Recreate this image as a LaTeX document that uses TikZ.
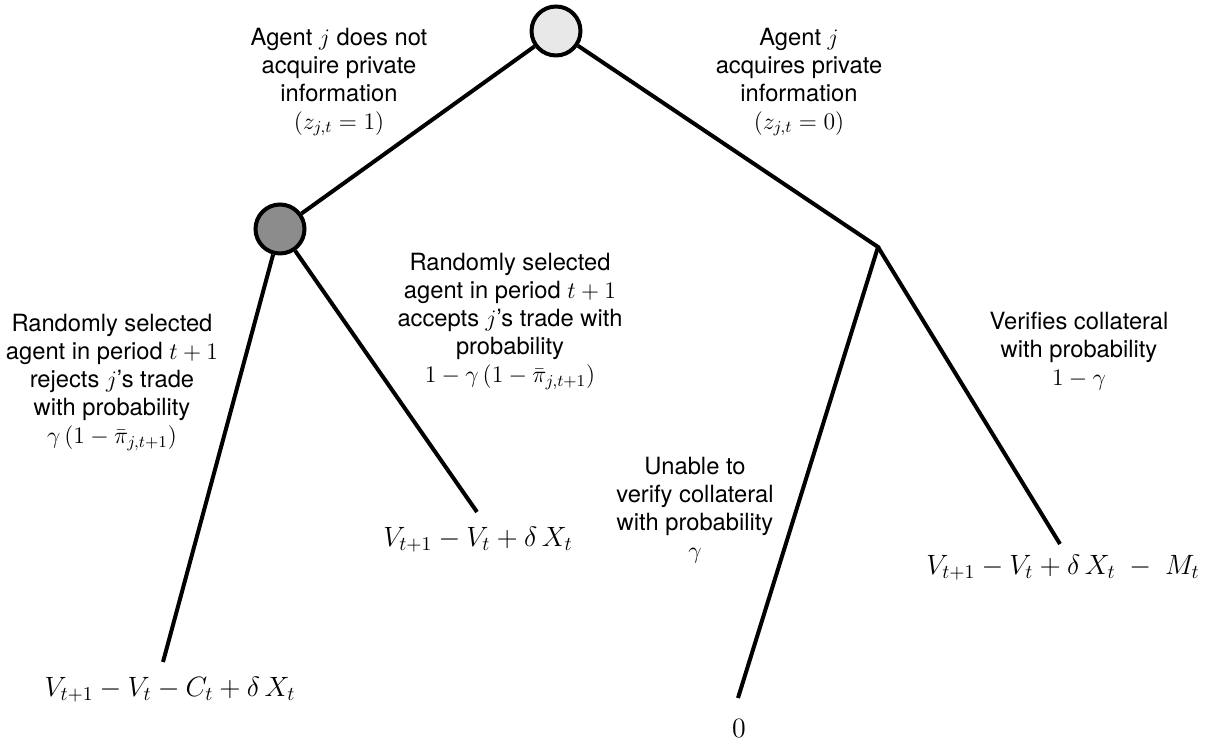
\RequirePackage{fix-cm}
\documentclass[tikz,border=0pt]{standalone}
\usepackage{fontspec}
\setmainfont{TeX Gyre Heros}
\usetikzlibrary{positioning}

\begin{document}
\begin{tikzpicture}[x=0.02cm,y=-0.02cm,line width=0.08cm,
  decision/.style={draw,circle,minimum size=0.98cm,inner sep=0pt},
  lab/.style={align=center,font=\fontsize{13.5}{16}\selectfont,inner sep=0pt},
  payoff/.style={font=\fontsize{15.9}{19}\selectfont,inner sep=0pt}]
\useasboundingbox (0,0) rectangle (1210,742);
% nodes of the tree
\node[decision,fill=black!9] (root) at (556,31) {};
\node[decision,fill=black!45] (nature) at (280,229) {};
\coordinate (verify) at (878,247);
\coordinate (reject) at (163,662);
\coordinate (accept) at (477,512);
\coordinate (noverify) at (738,698);
\coordinate (ver) at (1060,544);
% branches
\draw (root) -- (nature);
\draw[line join=miter] (root) -- (verify) -- (noverify);
\draw (verify) -- (ver);
\draw (nature) -- (reject);
\draw (nature) -- (accept);
% labels
\node[lab] (notacq) at (339,82) {Agent $j$ does not\\acquire private\\information\\$(z_{j,t}=1)$};
\node[lab] (acq) at (799,82) {Agent $j$\\acquires private\\information\\$(z_{j,t}=0)$};
\node[lab] (rejlab) at (112,382) {Randomly selected\\agent in period $t+1$\\rejects $j$'s trade\\with probability\\$\gamma\,(1-\bar\pi_{j,t+1})$};
\node[lab] (acclab) at (510,321) {Randomly selected\\agent in period $t+1$\\accepts $j$'s trade with\\probability\\$1-\gamma\,(1-\bar\pi_{j,t+1})$};
\node[lab] (unlab) at (695,510) {Unable to\\verify collateral\\with probability\\$\gamma$};
\node[lab] (verlab) at (1079,351) {Verifies collateral\\with probability\\$1-\gamma$};
% payoffs
\node[payoff] (p1) at (170,690) {$V_{t+1}-V_t-C_t+\delta\,X_t$};
\node[payoff] (p2) at (478,540) {$V_{t+1}-V_t+\delta\,X_t$};
\node[payoff] (p3) at (739,728) {$0$};
\node[payoff] (p4) at (1063,568) {$V_{t+1}-V_t+\delta\,X_t\;-\;M_t$};
\end{tikzpicture}
\end{document}
